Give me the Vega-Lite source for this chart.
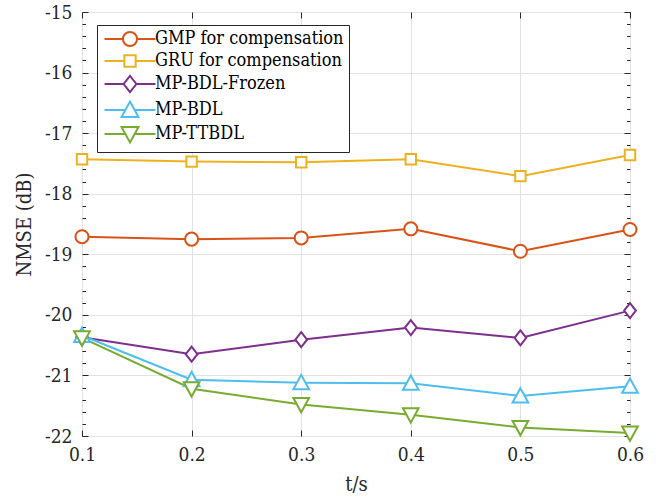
{
  "$schema": "https://vega.github.io/schema/vega-lite/v6.json",
  "width": 548,
  "height": 424,
  "autosize": "none",
  "padding": {"left": 82, "top": 12, "right": 37, "bottom": 66},
  "config": {
    "font": "DejaVu Serif",
    "view": {"stroke": "#262626", "strokeWidth": 1},
    "axis": {
      "labelFont": "DejaVu Serif Condensed, DejaVu Serif",
      "titleFont": "DejaVu Serif Condensed, DejaVu Serif",
      "labelColor": "#262626",
      "titleColor": "#262626",
      "tickColor": "#262626",
      "domain": false,
      "labelFontSize": 19,
      "titleFontSize": 20,
      "titleFontWeight": "normal",
      "gridColor": "#e2e2e2",
      "gridWidth": 1
    },
    "legend": {
      "labelFont": "DejaVu Serif Condensed, DejaVu Serif"
    }
  },
  "data": {
    "values": [
      {"t": 0.1, "s": "GMP for compensation", "v": -18.71},
      {"t": 0.2, "s": "GMP for compensation", "v": -18.75},
      {"t": 0.3, "s": "GMP for compensation", "v": -18.73},
      {"t": 0.4, "s": "GMP for compensation", "v": -18.58},
      {"t": 0.5, "s": "GMP for compensation", "v": -18.95},
      {"t": 0.6, "s": "GMP for compensation", "v": -18.59},
      {"t": 0.1, "s": "GRU for compensation", "v": -17.43},
      {"t": 0.2, "s": "GRU for compensation", "v": -17.47},
      {"t": 0.3, "s": "GRU for compensation", "v": -17.48},
      {"t": 0.4, "s": "GRU for compensation", "v": -17.43},
      {"t": 0.5, "s": "GRU for compensation", "v": -17.71},
      {"t": 0.6, "s": "GRU for compensation", "v": -17.36},
      {"t": 0.1, "s": "MP-BDL-Frozen", "v": -20.37},
      {"t": 0.2, "s": "MP-BDL-Frozen", "v": -20.65},
      {"t": 0.3, "s": "MP-BDL-Frozen", "v": -20.41},
      {"t": 0.4, "s": "MP-BDL-Frozen", "v": -20.21},
      {"t": 0.5, "s": "MP-BDL-Frozen", "v": -20.38},
      {"t": 0.6, "s": "MP-BDL-Frozen", "v": -19.93},
      {"t": 0.1, "s": "MP-BDL", "v": -20.34},
      {"t": 0.2, "s": "MP-BDL", "v": -21.07},
      {"t": 0.3, "s": "MP-BDL", "v": -21.12},
      {"t": 0.4, "s": "MP-BDL", "v": -21.13},
      {"t": 0.5, "s": "MP-BDL", "v": -21.34},
      {"t": 0.6, "s": "MP-BDL", "v": -21.18},
      {"t": 0.1, "s": "MP-TTBDL", "v": -20.38},
      {"t": 0.2, "s": "MP-TTBDL", "v": -21.22},
      {"t": 0.3, "s": "MP-TTBDL", "v": -21.48},
      {"t": 0.4, "s": "MP-TTBDL", "v": -21.65},
      {"t": 0.5, "s": "MP-TTBDL", "v": -21.86},
      {"t": 0.6, "s": "MP-TTBDL", "v": -21.95}
    ]
  },
  "layer": [
    {
      "mark": {"type": "line", "strokeWidth": 2},
      "encoding": {
        "x": {"field": "t", "type": "quantitative",
          "scale": {"domain": [0.1, 0.6], "nice": false, "zero": false},
          "axis": {"orient": "bottom", "title": "t/s", "values": [0.1, 0.2, 0.3, 0.4, 0.5, 0.6], "format": ".1f", "grid": true, "tickSize": -6, "labelPadding": 15, "titlePadding": 10, "labelFlush": false}},
        "y": {"field": "v", "type": "quantitative",
          "scale": {"domain": [-22, -15], "nice": false, "zero": false},
          "axis": {"orient": "left", "title": "NMSE (dB)", "values": [-22, -21, -20, -19, -18, -17, -16, -15], "labelExpr": "'-' + abs(datum.value)", "grid": true, "tickSize": -6, "labelPadding": 16, "titlePadding": 10, "labelFlush": false}},
        "color": {"field": "s", "type": "nominal",
          "scale": {"domain": ["GMP for compensation", "GRU for compensation", "MP-BDL-Frozen", "MP-BDL", "MP-TTBDL"], "range": ["#D95319", "#EDB120", "#7E2F8E", "#4DBEEE", "#77AC30"]},
          "legend": null}
      }
    },
    {
      "mark": {"type": "point", "filled": false, "fill": "white", "strokeWidth": 2, "size": 170, "opacity": 1},
      "encoding": {
        "x": {"field": "t", "type": "quantitative", "axis": null},
        "y": {"field": "v", "type": "quantitative",
          "axis": {"orient": "left", "title": null, "labels": false, "grid": false, "tickSize": -3.5,
            "values": [-21.8, -21.6, -21.4, -21.2, -20.8, -20.6, -20.4, -20.2, -19.8, -19.6, -19.4, -19.2, -18.8, -18.6, -18.4, -18.2, -17.8, -17.6, -17.4, -17.2, -16.8, -16.6, -16.4, -16.2, -15.8, -15.6, -15.4, -15.2]}},
        "color": {"field": "s", "type": "nominal",
          "scale": {"domain": ["GMP for compensation", "GRU for compensation", "MP-BDL-Frozen", "MP-BDL", "MP-TTBDL"], "range": ["#D95319", "#EDB120", "#7E2F8E", "#4DBEEE", "#77AC30"]},
          "legend": null},
        "shape": {"field": "s", "type": "nominal",
          "scale": {"domain": ["GMP for compensation", "GRU for compensation", "MP-BDL-Frozen", "MP-BDL", "MP-TTBDL"],
            "range": ["circle", "M-0.8,-0.8L0.8,-0.8L0.8,0.8L-0.8,0.8Z", "M0,-1.15L0.9,0L0,1.15L-0.9,0Z", "M0,-1.2L1.2,1L-1.2,1Z", "M0,1.2L1.2,-1L-1.2,-1Z"]},
          "legend": null}
      }
    },
    {
      "mark": {"type": "point", "filled": false, "fill": "white", "strokeWidth": 2, "size": 200, "opacity": 0},
      "encoding": {
        "x": {"field": "t", "type": "quantitative",
          "axis": {"orient": "top", "title": null, "labels": false, "grid": false, "tickSize": -6, "values": [0.1, 0.2, 0.3, 0.4, 0.5, 0.6]}},
        "y": {"field": "v", "type": "quantitative",
          "axis": {"orient": "right", "title": null, "labels": false, "grid": false, "tickSize": -6, "values": [-22, -21, -20, -19, -18, -17, -16, -15]}},
        "color": {"field": "s", "type": "nominal",
          "scale": {"domain": ["GMP for compensation", "GRU for compensation", "MP-BDL-Frozen", "MP-BDL", "MP-TTBDL"], "range": ["#D95319", "#EDB120", "#7E2F8E", "#4DBEEE", "#77AC30"]},
          "legend": {"title": null, "orient": "none", "legendX": 15, "legendY": 13, "labelFont": "DejaVu Serif Condensed, DejaVu Serif", "labelFontSize": 18, "labelLimit": 400, "labelColor": "#000000", "strokeColor": "#262626", "fillColor": "white", "padding": 5, "rowPadding": 0, "symbolStrokeWidth": 2, "symbolFillColor": "white", "symbolOffset": 19, "labelOffset": 16, "symbolSize": 200}},
        "shape": {"field": "s", "type": "nominal",
          "scale": {"domain": ["GMP for compensation", "GRU for compensation", "MP-BDL-Frozen", "MP-BDL", "MP-TTBDL"],
            "range": ["M-3.6,0L-1,0M1,0L3.6,0M-1,0A1,1,0,1,0,1,0A1,1,0,1,0,-1,0", "M-3.6,0L-0.8,0M0.8,0L3.6,0M-0.8,-0.8L0.8,-0.8L0.8,0.8L-0.8,0.8Z", "M-3.6,0L-0.9,0M0.9,0L3.6,0M0,-1.15L0.9,0L0,1.15L-0.9,0Z", "M-3.6,0L-0.65,0M0.65,0L3.6,0M0,-1.2L1.2,1L-1.2,1Z", "M-3.6,0L-0.65,0M0.65,0L3.6,0M0,1.2L1.2,-1L-1.2,-1Z"]},
          "legend": {"title": null, "orient": "none", "legendX": 15, "legendY": 13, "labelFont": "DejaVu Serif Condensed, DejaVu Serif", "labelFontSize": 18, "labelLimit": 400, "labelColor": "#000000", "strokeColor": "#262626", "fillColor": "white", "padding": 5, "rowPadding": 0, "symbolStrokeWidth": 2, "symbolFillColor": "white", "symbolOffset": 19, "labelOffset": 16, "symbolSize": 200}}
      }
    },
    {
      "mark": {"type": "point", "opacity": 0},
      "encoding": {
        "x": {"field": "t", "type": "quantitative", "axis": null},
        "y": {"field": "v", "type": "quantitative",
          "axis": {"orient": "right", "title": null, "labels": false, "grid": false, "tickSize": -3.5,
            "values": [-21.8, -21.6, -21.4, -21.2, -20.8, -20.6, -20.4, -20.2, -19.8, -19.6, -19.4, -19.2, -18.8, -18.6, -18.4, -18.2, -17.8, -17.6, -17.4, -17.2, -16.8, -16.6, -16.4, -16.2, -15.8, -15.6, -15.4, -15.2]}}
      }
    }
  ],
  "resolve": {
    "scale": {"color": "independent", "shape": "independent"},
    "legend": {"color": "independent", "shape": "independent"},
    "axis": {"x": "independent", "y": "independent"}
  }
}
